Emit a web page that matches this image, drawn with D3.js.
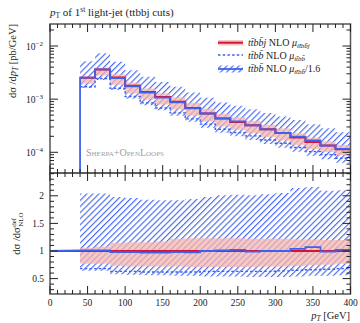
<!DOCTYPE html>
<html>
<head>
<meta charset="utf-8">
<script src="https://cdn.jsdelivr.net/npm/d3@7"></script>
<style>
  body { margin: 0; background: #fff; }
  svg { display: block; font-family: "Liberation Serif", "DejaVu Serif", serif; }
</style>
</head>
<body>
<div id="chart"></div>
<script>
// bin edges in GeV
const edges = [40, 60, 80, 100, 120, 140, 160, 180, 200, 220, 240, 260, 280, 300, 320, 340, 360, 380, 400];

// ttbbj NLO central value [pb/GeV]
const ttbbj = [2.52e-3, 3.6e-3, 2.55e-3, 1.78e-3, 1.37e-3, 1.10e-3, 8.9e-4, 6.85e-4, 5.37e-4,
  4.32e-4, 3.73e-4, 3.23e-4, 2.71e-4, 2.31e-4, 1.89e-4, 1.56e-4, 1.35e-4, 1.14e-4];

// ratios to ttbbj NLO
const ttbbjLo = [0.77, 0.77, 0.73, 0.72, 0.72, 0.72, 0.72, 0.71, 0.71, 0.71, 0.71, 0.71, 0.72, 0.72, 0.73, 0.74, 0.75, 0.77];
const ttbbjHi = [1.06, 1.08, 1.15, 1.16, 1.16, 1.17, 1.22, 1.23, 1.23, 1.23, 1.23, 1.22, 1.22, 1.22, 1.21, 1.21, 1.20, 1.20];

const ttbbScaled = [1.01, 1.01, 0.98, 0.98, 0.97, 0.97, 0.98, 0.975, 1.0, 1.01, 1.02, 0.99, 1.0, 1.0, 1.04, 1.07, 0.99, 1.02];
const ttbbScaledLo = [0.64, 0.64, 0.58, 0.57, 0.56, 0.56, 0.55, 0.55, 0.54, 0.54, 0.54, 0.53, 0.53, 0.53, 0.54, 0.55, 0.55, 0.56];
const ttbbScaledHi = [2.04, 2.04, 1.98, 1.96, 1.93, 1.92, 1.92, 1.94, 1.98, 2.01, 2.02, 2.01, 2.03, 2.05, 2.14, 2.16, 2.09, 2.10];

const ttbbDef = [0.68, 0.68, 0.63, 0.63, 0.62, 0.62, 0.62, 0.62, 0.63, 0.63, 0.63, 0.63, 0.63, 0.64, 0.65, 0.66, 0.67, 0.68];

const xTicks = [0, 50, 100, 150, 200, 250, 300, 350, 400];
const ratioTicks = [0.5, 1, 1.5, 2];
const logTicks = [1e-2, 1e-3, 1e-4];
const logTickExp = ["\u22122", "\u22123", "\u22124"];

const width = 360, height = 323;
const red = "#d5133a", blue = "#3f62ee", pink = "#f6b5ad";

const svg = d3.select("#chart").append("svg")
  .attr("width", width).attr("height", height);

const x = d3.scaleLinear().domain([0, 400]).range([50, 350.5]);
const y = d3.scaleLog().domain([4.08e-5, 0.02594]).range([173, 24]);
const yr = d3.scaleLinear().domain([0.221, 2.413]).range([294, 173]);

const defs = svg.append("defs");
defs.append("clipPath").attr("id", "clipTop").append("rect")
  .attr("x", 50).attr("y", 24).attr("width", 300.5).attr("height", 149);
defs.append("clipPath").attr("id", "clipBot").append("rect")
  .attr("x", 50).attr("y", 173).attr("width", 300.5).attr("height", 121);

const hatch = defs.append("pattern").attr("id", "hatch")
  .attr("patternUnits", "userSpaceOnUse")
  .attr("width", 4.3).attr("height", 4.3)
  .attr("patternTransform", "rotate(45)");
hatch.append("line").attr("x1", 0.6).attr("y1", 0).attr("x2", 0.6).attr("y2", 4.3)
  .attr("stroke", blue).attr("stroke-width", 1.1);

// step helpers
function steps(vals) {
  const pts = [];
  vals.forEach((v, i) => { pts.push([edges[i], v]); pts.push([edges[i + 1], v]); });
  return pts;
}
function bandSteps(lo, hi) {
  const pts = [];
  lo.forEach((v, i) => {
    pts.push({ x: edges[i], lo: v, hi: hi[i] });
    pts.push({ x: edges[i + 1], lo: v, hi: hi[i] });
  });
  return pts;
}
const mul = (arr) => arr.map((r, i) => r * ttbbj[i]);
const ones = ttbbj.map(() => 1);

// ---------- top panel ----------
const gTop = svg.append("g").attr("clip-path", "url(#clipTop)");
const areaTop = d3.area().x(d => x(d.x)).y0(d => y(d.lo)).y1(d => y(d.hi));
const lineTop = d3.line().x(d => x(d[0])).y(d => y(d[1]));

gTop.append("path").attr("d", areaTop(bandSteps(mul(ttbbScaledLo), mul(ttbbScaledHi))))
  .attr("fill", "url(#hatch)");
gTop.append("path").attr("d", areaTop(bandSteps(mul(ttbbjLo), mul(ttbbjHi))))
  .attr("fill", pink).attr("opacity", 0.75);
gTop.append("path").attr("d", lineTop(steps(mul(ttbbDef))))
  .attr("fill", "none").attr("stroke", blue).attr("stroke-width", 1.4)
  .attr("stroke-dasharray", "2.5,2.2");
gTop.append("path").attr("d", lineTop(steps(ttbbj)))
  .attr("fill", "none").attr("stroke", red).attr("stroke-width", 2);
const blueTop = [[edges[0], 3e-5]].concat(steps(mul(ttbbScaled)));
gTop.append("path").attr("d", lineTop(blueTop))
  .attr("fill", "none").attr("stroke", blue).attr("stroke-width", 1.8);

// ---------- ratio panel ----------
const gBot = svg.append("g").attr("clip-path", "url(#clipBot)");
const areaBot = d3.area().x(d => x(d.x)).y0(d => yr(d.lo)).y1(d => yr(d.hi));
const lineBot = d3.line().x(d => x(d[0])).y(d => yr(d[1]));

gBot.append("path").attr("d", areaBot(bandSteps(ttbbScaledLo, ttbbScaledHi)))
  .attr("fill", "url(#hatch)");
gBot.append("path").attr("d", areaBot(bandSteps(ttbbjLo, ttbbjHi)))
  .attr("fill", pink).attr("opacity", 0.75);
gBot.append("path").attr("d", lineBot(steps(ttbbDef)))
  .attr("fill", "none").attr("stroke", blue).attr("stroke-width", 1.4)
  .attr("stroke-dasharray", "2.5,2.2");
gBot.append("path").attr("d", lineBot([[0, 1]].concat(steps(ones))))
  .attr("fill", "none").attr("stroke", red).attr("stroke-width", 2);
gBot.append("path").attr("d", lineBot([[0, 1]].concat(steps(ttbbScaled))))
  .attr("fill", "none").attr("stroke", blue).attr("stroke-width", 1.8);

// ---------- frames and ticks ----------
const frameCol = "#555", tickCol = "#222";
function frame(y0, y1) {
  svg.append("rect").attr("x", 50).attr("y", y0).attr("width", 300.5).attr("height", y1 - y0)
    .attr("fill", "none").attr("stroke", frameCol).attr("stroke-width", 1.5);
}
frame(24, 173);
frame(173, 294);

const ticks = svg.append("g").attr("stroke", tickCol).attr("stroke-width", 1);
const xMinor = d3.range(0, 401, 10);
function xTickRow(yy, dir) {
  xMinor.forEach(v => {
    const major = v % 50 === 0;
    const len = major ? 8 : 4;
    ticks.append("line").attr("x1", x(v)).attr("x2", x(v))
      .attr("y1", yy).attr("y2", yy + dir * len);
  });
}
xTickRow(24, 1);
xTickRow(173, -1);
xTickRow(173, 1);
xTickRow(294, -1);

function yTick(yy, len) {
  ticks.append("line").attr("x1", 50).attr("x2", 50 + len).attr("y1", yy).attr("y2", yy);
  ticks.append("line").attr("x1", 350.5).attr("x2", 350.5 - len).attr("y1", yy).attr("y2", yy);
}
// log ticks
[-5, -4, -3, -2].forEach(e => {
  for (let m = 1; m <= 9; m++) {
    const v = m * Math.pow(10, e);
    if (v < y.domain()[0] || v > y.domain()[1]) continue;
    yTick(y(v), m === 1 ? 8 : 4);
  }
});
// ratio ticks
d3.range(3, 25).forEach(k => {
  const v = k / 10;
  if (v < yr.domain()[0] || v > yr.domain()[1]) return;
  yTick(yr(v), k % 5 === 0 ? 8 : 4);
});

// ---------- tick labels ----------
const lab = svg.append("g").attr("font-size", 9.5).attr("fill", "#222");
xTicks.forEach(v => {
  lab.append("text").attr("x", x(v)).attr("y", 306).attr("text-anchor", "middle").text(v);
});
ratioTicks.forEach(v => {
  lab.append("text").attr("x", 44).attr("y", yr(v) + 3.3).attr("text-anchor", "end").text(v);
});
logTicks.forEach((v, i) => {
  const t = lab.append("text").attr("x", 43).attr("y", y(v) + 3.5).attr("text-anchor", "end");
  t.append("tspan").text("10");
  t.append("tspan").attr("dy", -4).attr("font-size", 7).text(logTickExp[i]);
});

// ---------- titles and labels ----------
const title = svg.append("text").attr("x", 50).attr("y", 16).attr("font-size", 11).attr("fill", "#222");
title.append("tspan").attr("font-style", "italic").text("p");
title.append("tspan").attr("dy", 2).attr("font-size", 7.5).text("T");
title.append("tspan").attr("dy", -2).text(" of 1");
title.append("tspan").attr("dy", -4).attr("font-size", 7.5).text("st");
title.append("tspan").attr("dy", 4).text(" light-jet (ttbbj cuts)");

const xl = svg.append("text").attr("x", 350).attr("y", 319).attr("text-anchor", "end")
  .attr("font-size", 10.5).attr("fill", "#222");
xl.append("tspan").attr("font-style", "italic").text("p");
xl.append("tspan").attr("dy", 2).attr("font-size", 7.5).attr("font-style", "italic").text("T");
xl.append("tspan").attr("dy", -2).text(" [GeV]");

const yl = svg.append("text").attr("transform", "translate(16,24) rotate(-90)")
  .attr("text-anchor", "end").attr("font-size", 10.5).attr("fill", "#222");
yl.append("tspan").text("d\u03c3 /d");
yl.append("tspan").attr("font-style", "italic").text("p");
yl.append("tspan").attr("dy", 2).attr("font-size", 7.5).attr("font-style", "italic").text("T");
yl.append("tspan").attr("dy", -2).text(" [pb/GeV]");

const rl = svg.append("g").attr("font-size", 10.5).attr("fill", "#222");
const rlBase = rl.append("text").text("d\u03c3 /d\u03c3");
const baseLen = rlBase.node().getComputedTextLength();
const rlSup = rl.append("text").attr("x", baseLen + 0.5).attr("y", -4.5).attr("font-size", 7).text("def");
const rlSub = rl.append("text").attr("x", baseLen + 0.5).attr("y", 3).attr("font-size", 7).text("NLO");
const rlLen = baseLen + 0.5 + Math.max(rlSup.node().getComputedTextLength(), rlSub.node().getComputedTextLength());
rl.attr("transform", `translate(20,${233.5 + rlLen / 2}) rotate(-90)`);

svg.append("text").attr("x", 86).attr("y", 156).attr("font-size", 10)
  .attr("font-variant", "small-caps").attr("fill", "#a0a0a0").text("Sherpa+OpenLoops");

// ---------- legend ----------
const leg = svg.append("g");
leg.append("rect").attr("x", 218).attr("y", 40).attr("width", 25).attr("height", 5.5)
  .attr("fill", pink).attr("opacity", 0.75);
leg.append("line").attr("x1", 218).attr("x2", 243).attr("y1", 42.7).attr("y2", 42.7)
  .attr("stroke", red).attr("stroke-width", 2);
leg.append("line").attr("x1", 218).attr("x2", 243).attr("y1", 55).attr("y2", 55)
  .attr("stroke", blue).attr("stroke-width", 1.4).attr("stroke-dasharray", "2.5,2.2");
leg.append("rect").attr("x", 218).attr("y", 65.5).attr("width", 25).attr("height", 7)
  .attr("fill", "url(#hatch)");
leg.append("line").attr("x1", 218).attr("x2", 243).attr("y1", 69).attr("y2", 69)
  .attr("stroke", blue).attr("stroke-width", 1.8);

const legRows = [
  { y: 46, sub: "tt\u0304bb\u0304j", name: "tt\u0304bb\u0304j", tail: "" },
  { y: 58.5, sub: "tt\u0304bb\u0304", name: "tt\u0304bb\u0304", tail: "" },
  { y: 72, sub: "tt\u0304bb\u0304", name: "tt\u0304bb\u0304", tail: "/1.6" }
];
legRows.forEach(r => {
  const t = leg.append("text").attr("x", 248).attr("y", r.y).attr("font-size", 10).attr("fill", "#222");
  t.append("tspan").attr("font-style", "italic").text(r.name);
  t.append("tspan").text(" NLO ");
  t.append("tspan").attr("font-style", "italic").text("\u03bc");
  t.append("tspan").attr("dy", 2).attr("font-size", 7).attr("font-style", "italic").text(r.sub);
  if (r.tail) t.append("tspan").attr("dy", -2).text(r.tail);
});
</script>
</body>
</html>
